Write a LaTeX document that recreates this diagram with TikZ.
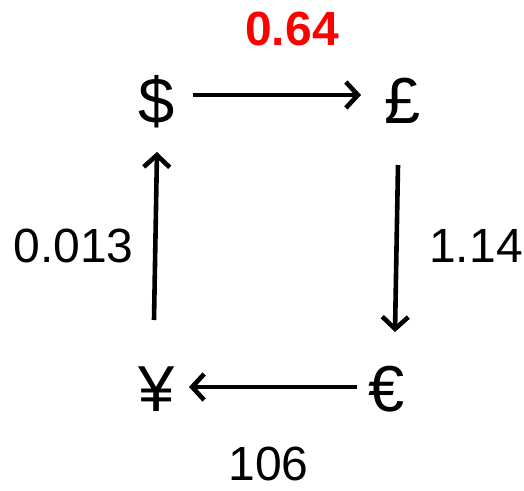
\documentclass[tikz,border=0pt]{standalone}
\usepackage{fontspec}
\setmainfont{Liberation Sans}
\usetikzlibrary{arrows.meta}
\definecolor{labred}{RGB}{255,0,0}
\begin{document}
\begin{tikzpicture}[x=1pt,y=-1pt,
  cur/.style={inner sep=0pt,anchor=base,font=\fontsize{65}{70}\selectfont},
  lab/.style={inner sep=0pt,anchor=base,font=\fontsize{48}{52}\selectfont},
  arr/.style={line width=4.6pt,-{Straight Barb[length=12pt,width=26pt,line width=4.6pt]}}]
\useasboundingbox (0,0) rectangle (524,490);
\node[cur] (usd) at (157,123) {\$};
\node[cur] (gbp) at (403,123) {£};
\node[cur] (yen) at (157,411) {¥};
\node[cur] (eur) at (387,411) {€};
\node[lab,text=labred,font=\fontsize{48}{52}\selectfont\bfseries] (r1) at (292,45) {0.64};
\node[lab] (r2) at (476,262) {1.14};
\node[lab] (r3) at (268.5,480) {106};
\node[lab] (r4) at (73.5,262) {0.013};
\draw[arr] ([shift={(36,-28)}]usd.base) -- ([shift={(-42,-28)}]gbp.base);
\draw[arr] ([shift={(-5,42)}]gbp.base) -- ([shift={(8,-79)}]eur.base);
\draw[arr] ([shift={(-30,-24)}]eur.base) -- ([shift={(32,-24)}]yen.base);
\draw[arr] ([shift={(-3,-91)}]yen.base) -- ([shift={(0,29)}]usd.base);
\end{tikzpicture}
\end{document}
